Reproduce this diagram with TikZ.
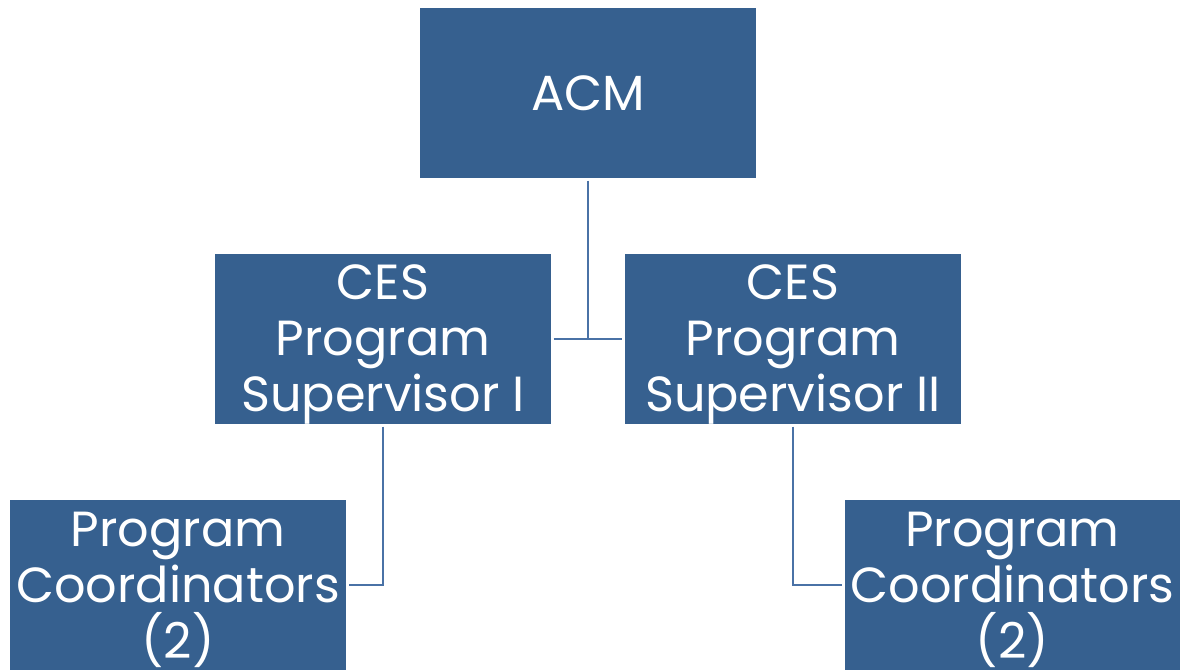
\documentclass[tikz,border=0pt]{standalone}
\usepackage{fontspec}
\setmainfont{Poppins}
\definecolor{boxblue}{HTML}{36608F}
\definecolor{lineblue}{HTML}{4A72A6}
\begin{document}
\begin{tikzpicture}[x=0.75pt,y=-0.75pt,
  box/.style={fill=boxblue,draw=none,minimum width=252pt,minimum height=127.5pt,
    inner sep=0pt,outer sep=2pt,text=white,align=center,
    font=\fontsize{37}{42}\selectfont},
  low/.style={yshift=-4pt},
  conn/.style={draw=lineblue,line width=2.2pt}]
\useasboundingbox (0,0) rectangle (1180,671);
\node[box] (acm) at (588,93) {ACM};
\node[box] (s1) at (383,339) {};
\node[box] (s2) at (793,339) {};
\node[box] (p1) at (178,585) {};
\node[box] (p2) at (1012.5,585) {};
\node[box,fill=none,low] (t1) at (s1.center) {CES\\Program\\Supervisor I};
\node[box,fill=none,low] (t2) at (s2.center) {CES\\Program\\Supervisor II};
\node[box,fill=none,low] (t3) at (p1.center) {Program\\Coordinators\\(2)};
\node[box,fill=none,low] (t4) at (p2.center) {Program\\Coordinators\\(2)};
\coordinate (mid) at (588,339);
\draw[conn] (acm.south) -- (mid);
\draw[conn] (s1.east) -- (s2.west);
\draw[conn] (s1.south) |- (p1.east);
\draw[conn] (s2.south) |- (p2.west);
\end{tikzpicture}
\end{document}
